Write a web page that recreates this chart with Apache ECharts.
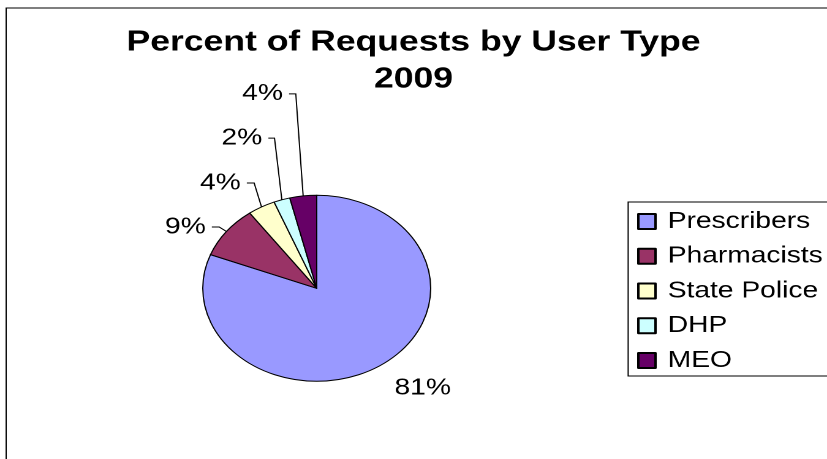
<!DOCTYPE html>
<html>
<head>
<meta charset="utf-8">
<script src="https://cdn.jsdelivr.net/npm/echarts@6/dist/echarts.min.js"></script>
<style>
  html, body { margin: 0; padding: 0; background: #fff; }
  #wrap { width: 827px; height: 459px; overflow: hidden; position: relative; background: #fff; }
  #chart { width: 675px; height: 459px; transform: scaleX(1.2252); transform-origin: 0 0; }
</style>
</head>
<body>
<div id="wrap"><div id="chart"></div></div>
<script>
// ---- data ----
const chartTitle = 'Percent of Requests by User Type';
const chartYear = '2009';
const categories = ['Prescribers', 'Pharmacists', 'State Police', 'DHP', 'MEO'];
const values = [80.9, 9.1, 3.9, 2.3, 3.8];

// ---- styling ----
const sliceColors = ['#9999FF', '#993366', '#FFFFCC', '#CCFFFF', '#660066'];
// [radial length, horizontal length] of each leader line
const leaderLen = [[28, 0], [7.5, 6], [27.4, 6], [64.8, 5], [102.8, 5.5]];
const leaderVisible = [false, true, true, true, true];
const MAX_LEADER_LEAN = 6; // leader lines rise almost vertically, as in the original
const FONT = '"Liberation Sans", Arial, sans-serif';

const pieData = categories.map((name, i) => ({
  name: name,
  value: values[i],
  itemStyle: { color: sliceColors[i] },
  labelLine: {
    show: true,
    length: leaderLen[i][0],
    length2: leaderLen[i][1],
    lineStyle: { opacity: leaderVisible[i] ? 1 : 0 }
  }
}));

function leanLayout(p) {
  const pts = p.labelLinePoints;
  const r = p.labelRect;
  if (!pts || pts.length < 3 || !r) return {};
  const dxRadial = pts[1][0] - pts[0][0];
  const want = Math.sign(dxRadial) * Math.min(Math.abs(dxRadial), MAX_LEADER_LEAN);
  const delta = want - dxRadial;
  const leftSide = pts[2][0] < pts[0][0];
  return {
    x: leftSide ? r.x + r.width + delta : r.x + delta,
    y: r.y + r.height / 2,
    align: leftSide ? 'right' : 'left',
    verticalAlign: 'middle',
    labelLinePoints: [
      [pts[0][0], pts[0][1]],
      [pts[1][0] + delta, pts[1][1]],
      [pts[2][0] + delta, pts[2][1]]
    ]
  };
}

const chart = echarts.init(document.getElementById('chart'), null, { renderer: 'canvas', devicePixelRatio: 2 });
chart.setOption({
  animation: false,
  backgroundColor: '#fff',
  graphic: [{
    type: 'rect', z: -10, silent: true,
    shape: { x: 5, y: 8, width: 800, height: 600 },
    style: { fill: 'none', stroke: '#000', lineWidth: 1 }
  }],
  title: {
    text: chartTitle + '\n' + chartYear,
    left: 'center',
    top: 24,
    padding: [0, 0, 0, 27],
    textStyle: { fontFamily: FONT, fontSize: 29, fontWeight: 'bold', color: '#000', lineHeight: 37 }
  },
  legend: {
    orient: 'vertical',
    left: 512.7,
    top: 202,
    icon: 'rect',
    itemWidth: 14,
    itemHeight: 15,
    itemGap: 11.75,
    padding: [8, 10, 4, 7.3],
    borderColor: '#000',
    borderWidth: 1,
    textStyle: { fontFamily: FONT, fontSize: 23, color: '#000', padding: [0, 0, 0, 5] },
    data: categories
  },
  series: [{
    type: 'pie',
    center: [258.5, 288.3],
    radius: 93,
    startAngle: 90,
    clockwise: true,
    avoidLabelOverlap: false,
    minShowLabelAngle: 0,
    itemStyle: { borderColor: '#000', borderWidth: 1 },
    label: {
      show: true,
      position: 'outside',
      fontFamily: FONT,
      fontSize: 23,
      color: '#000',
      distanceToLabelLine: 5,
      formatter: p => Math.round(p.percent) + '%'
    },
    labelLine: { lineStyle: { color: '#000', width: 1 } },
    labelLayout: leanLayout,
    emphasis: { disabled: true },
    data: pieData
  }]
});
</script>
</body>
</html>
